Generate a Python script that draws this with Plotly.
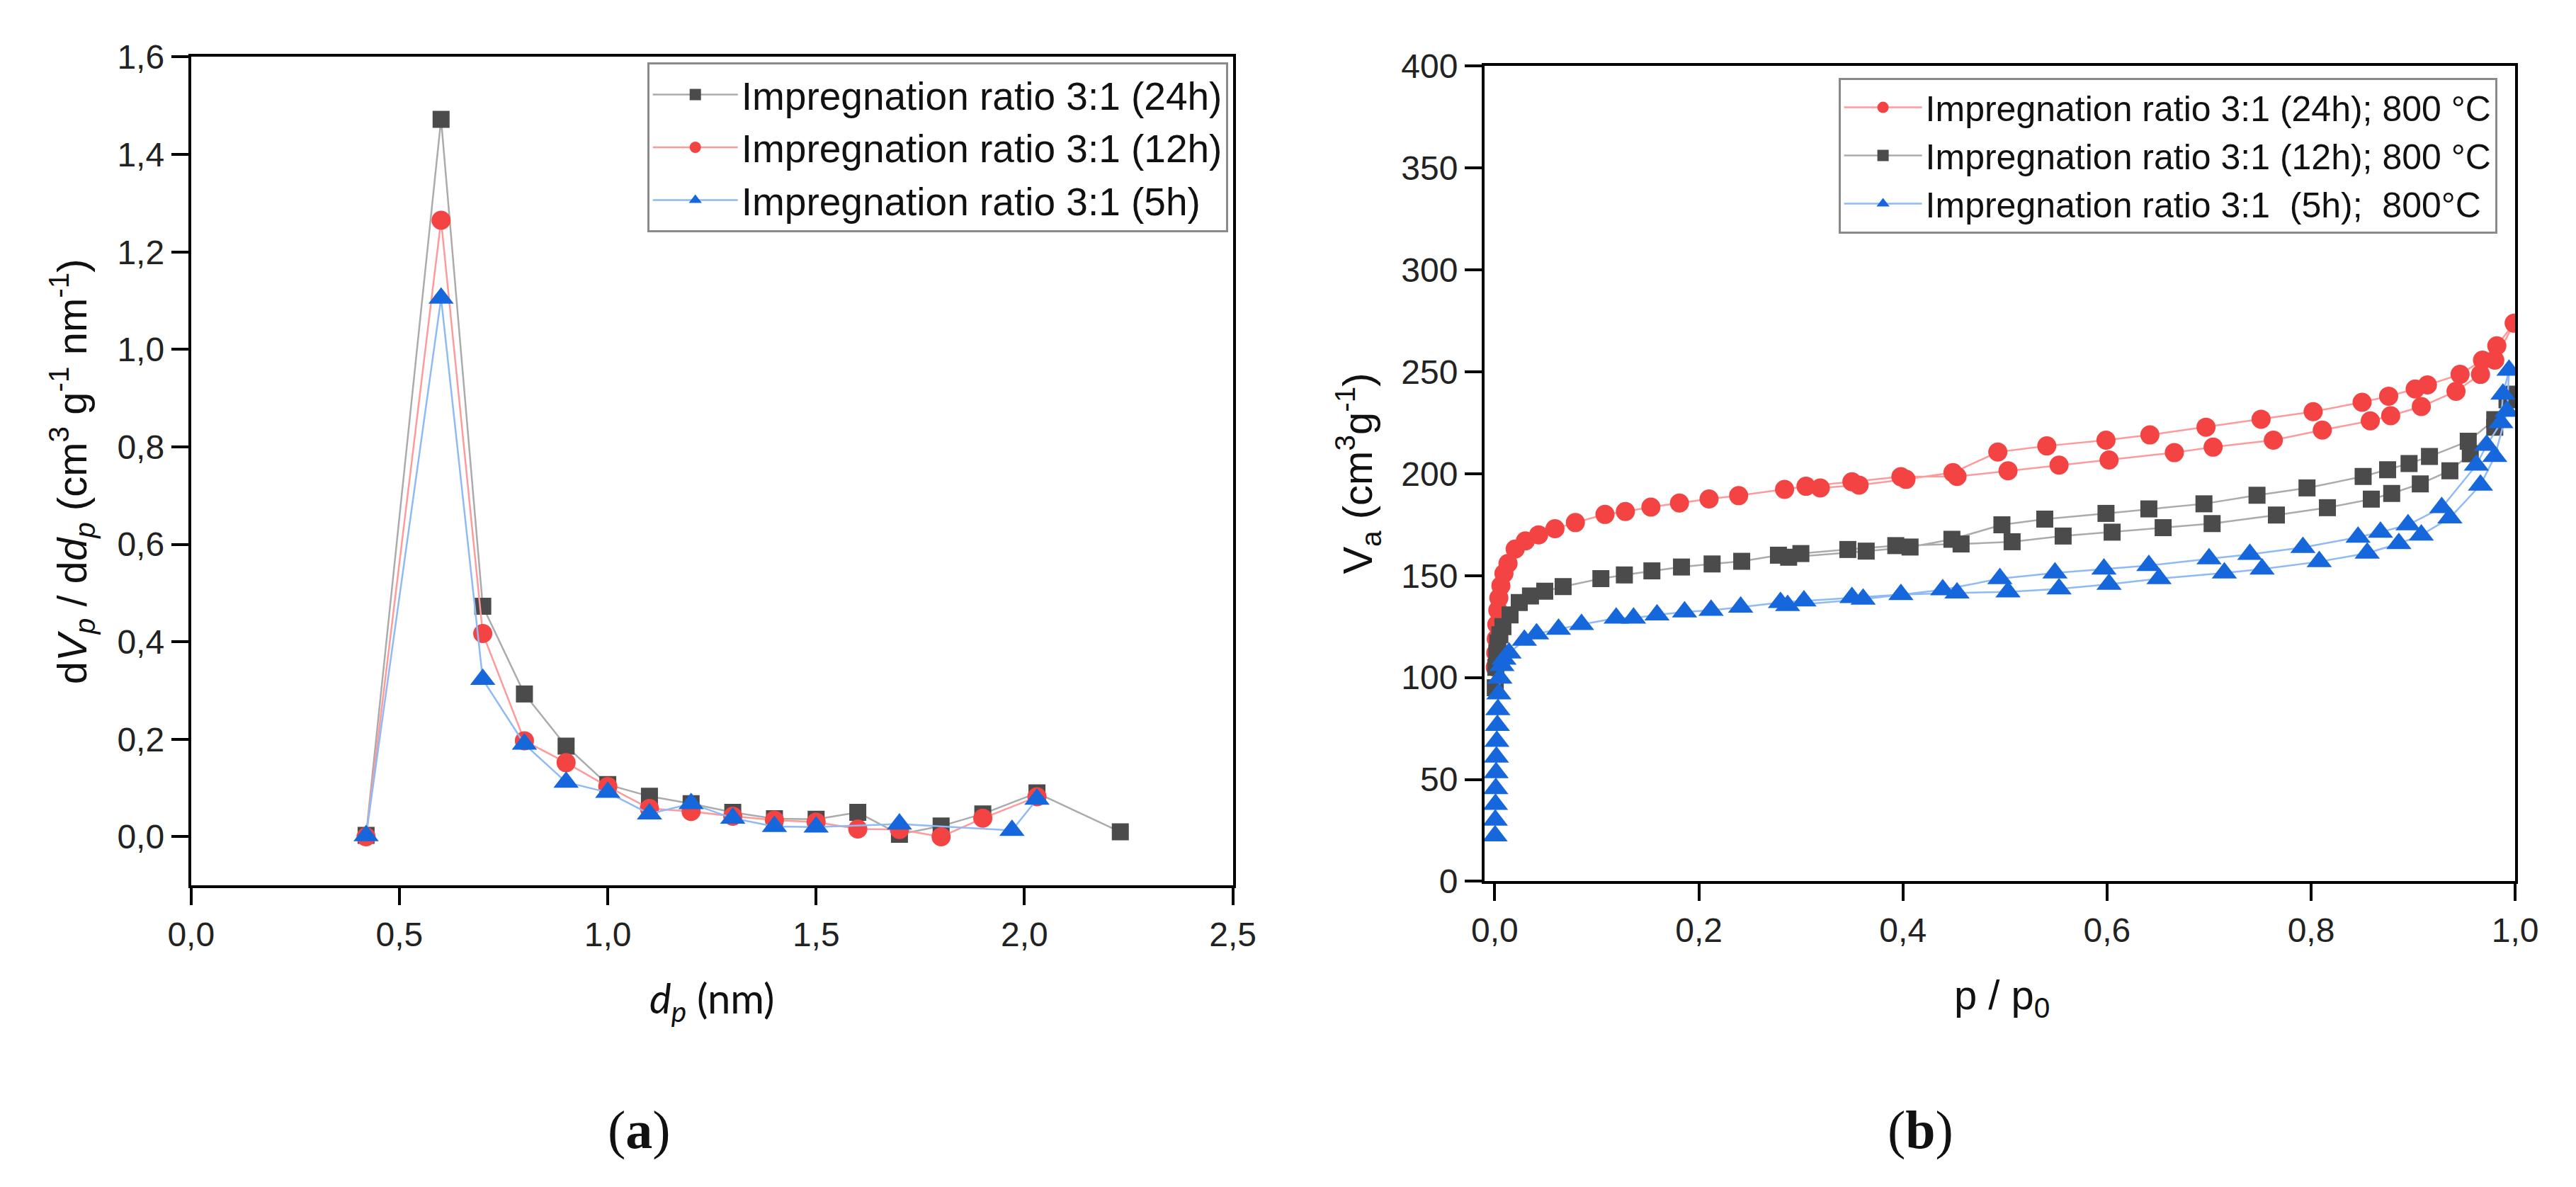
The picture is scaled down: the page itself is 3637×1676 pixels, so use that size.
import plotly.graph_objects as go

# (a) pore size distribution, d_p in nm
dp_24h = [0.42, 0.60, 0.70, 0.80, 0.90, 1.00, 1.10, 1.20, 1.30, 1.40, 1.50, 1.60, 1.70, 1.80, 1.90, 2.03, 2.23]
psd_24h = [0.003, 1.472, 0.473, 0.293, 0.186, 0.107, 0.083, 0.068, 0.050, 0.037, 0.036, 0.050, 0.005, 0.022, 0.047, 0.090, 0.010]
dp_12h = [0.42, 0.60, 0.70, 0.80, 0.90, 1.00, 1.10, 1.20, 1.30, 1.40, 1.50, 1.60, 1.70, 1.80, 1.90, 2.03]
psd_12h = [0.0, 1.265, 0.417, 0.197, 0.152, 0.103, 0.058, 0.052, 0.042, 0.034, 0.030, 0.016, 0.015, 0.0, 0.038, 0.082]
dp_5h = [0.42, 0.60, 0.70, 0.80, 0.90, 1.00, 1.10, 1.20, 1.30, 1.40, 1.50, 1.70, 1.97, 2.03]
psd_5h = [0.002, 1.105, 0.323, 0.190, 0.112, 0.091, 0.047, 0.068, 0.038, 0.021, 0.020, 0.026, 0.013, 0.077]

# (b) N2 isotherms: adsorption branch (rising p) then desorption branch (falling p)
p_ads_24h = [0.0005, 0.001, 0.0015, 0.002, 0.003, 0.004, 0.006, 0.009, 0.013, 0.02, 0.03, 0.043, 0.059, 0.079,
             0.108, 0.128, 0.153, 0.181, 0.21, 0.239, 0.284, 0.305, 0.35, 0.398, 0.453, 0.503, 0.553, 0.602,
             0.666, 0.704, 0.763, 0.811, 0.858, 0.878, 0.908, 0.942, 0.966, 0.98, 0.999]
v_ads_24h = [105, 112, 119, 126, 133, 139, 145, 151, 156, 163, 167, 170, 173, 176,
             180, 181.4, 183.6, 185.6, 187.6, 189.2, 192.3, 193.8, 196, 198.5, 198.6, 201.4, 204.2, 206.7,
             210.3, 213, 216.4, 221.4, 225.9, 228.4, 232.9, 240.4, 248.7, 255.7, 273.8]
p_des_24h = [0.982, 0.968, 0.946, 0.914, 0.902, 0.876, 0.85, 0.802, 0.751, 0.697, 0.642, 0.599, 0.541, 0.493,
             0.449, 0.403, 0.357, 0.319]
v_des_24h = [262.7, 255.7, 248.7, 243.5, 241.5, 238, 235, 230.4, 226.7, 222.8, 219, 216.4, 213.6, 210.6,
             200.5, 197.2, 194.4, 193.0]

p_ads_12h = [0.0005, 0.001, 0.002, 0.003, 0.005, 0.008, 0.015, 0.024, 0.035, 0.049, 0.067, 0.104, 0.127, 0.154,
             0.183, 0.213, 0.242, 0.278, 0.3, 0.346, 0.393, 0.457, 0.507, 0.557, 0.605, 0.655, 0.703, 0.766,
             0.816, 0.859, 0.879, 0.907, 0.936, 0.956, 0.98, 0.992]
v_ads_12h = [95, 105, 112, 117, 121, 125, 130.7, 136.8, 140, 142.3, 144.6, 148.5, 150.3, 152.3,
             154.2, 155.7, 157, 160, 160.8, 162.8, 164.7, 165.5, 166.6, 169.4, 171.3, 173.5, 175.5, 179.7,
             183.3, 187.5, 190.3, 195, 201.4, 209.7, 222.8, 236.2]
p_des_12h = [0.996, 0.98, 0.954, 0.916, 0.896, 0.875, 0.851, 0.796, 0.747, 0.695, 0.641, 0.599, 0.539, 0.497,
             0.448, 0.407, 0.364, 0.288]
v_des_12h = [239, 226.5, 215.9, 208.4, 205, 201.9, 198.6, 193, 189.4, 185.2, 182.7, 180.5, 177.7, 174.9,
             167.8, 164, 162, 159]

p_ads_5h = [0.0003, 0.0005, 0.0007, 0.001, 0.0013, 0.0016, 0.002, 0.0025, 0.003, 0.004, 0.005, 0.007, 0.009,
            0.014, 0.029, 0.041, 0.0625, 0.085, 0.119, 0.136, 0.159, 0.186, 0.212, 0.241, 0.28, 0.303, 0.35,
            0.398, 0.453, 0.503, 0.553, 0.602, 0.651, 0.715, 0.752, 0.808, 0.855, 0.886, 0.908, 0.936, 0.966,
            0.98, 0.992]
v_ads_5h = [22.3, 30, 37.8, 45.5, 53.3, 61, 68.7, 76.5, 84.2, 92, 99.7, 105.9, 109,
            112, 118.3, 121.4, 123.7, 126, 129.1, 129.1, 130.7, 132.2, 133, 134.5, 136.8, 137.6, 139.2,
            140.7, 141.5, 142, 143.5, 145.7, 148.5, 151.3, 153.2, 156.8, 161, 165.7, 169.9, 178.3, 194.4,
            208.4, 230.6]
p_des_5h = [0.994, 0.988, 0.986, 0.972, 0.962, 0.928, 0.895, 0.868, 0.846, 0.792, 0.74, 0.7, 0.641, 0.597,
            0.549, 0.495, 0.439, 0.361, 0.287]
v_des_5h = [250.7, 239, 225, 213.9, 204.2, 183.3, 174.9, 171.3, 168.8, 163.8, 160.4, 158.2, 154.9, 153.2,
            151.3, 148.5, 143, 138.4, 135.3]

W, H = 3637, 1676
FONT = "Arial, Liberation Sans, sans-serif"
SERIF = "Liberation Serif, Times New Roman, serif"

# colours (marker, line)
BLACK = ("#4b4b4b", "#ababab")
RED = ("#f34343", "#ff9a9a")
BLUE = ("#1667dc", "#8fbaf5")

SQ = dict(symbol="square", size=24)
CI = dict(symbol="circle", size=27)
TR = dict(symbol="triangle-up", size=31)


def trace(x, y, name, col, mk, xa, ya, legend):
    return go.Scatter(
        x=x, y=y, name=name, mode="lines+markers",
        line=dict(color=col[1], width=2.5),
        marker=dict(color=col[0], line=dict(width=0), **mk),
        xaxis=xa, yaxis=ya, legend=legend,
    )


fig = go.Figure()
fig.add_trace(trace(dp_24h, psd_24h, "Impregnation ratio 3:1 (24h)", BLACK, SQ, "x", "y", "legend"))
fig.add_trace(trace(dp_12h, psd_12h, "Impregnation ratio 3:1 (12h)", RED, CI, "x", "y", "legend"))
fig.add_trace(trace(dp_5h, psd_5h, "Impregnation ratio 3:1 (5h)", BLUE, TR, "x", "y", "legend"))

fig.add_trace(trace(p_ads_24h + p_des_24h, v_ads_24h + v_des_24h,
                    "Impregnation ratio 3:1 (24h); 800 °C", RED, CI, "x2", "y2", "legend2"))
fig.add_trace(trace(p_ads_12h + p_des_12h, v_ads_12h + v_des_12h,
                    "Impregnation ratio 3:1 (12h); 800 °C", BLACK, SQ, "x2", "y2", "legend2"))
fig.add_trace(trace(p_ads_5h + p_des_5h, v_ads_5h + v_des_5h,
                    "Impregnation ratio 3:1\u00a0\u00a0(5h);\u00a0\u00a0800°C", BLUE, TR, "x2", "y2", "legend2"))

ax = dict(showline=True, linewidth=4, linecolor="black", mirror=True, ticks="outside",
          ticklen=24, tickwidth=4, tickcolor="black", showgrid=False, zeroline=False,
          tickfont=dict(family=FONT, size=48, color="#222"))

fig.update_layout(
    width=W, height=H,
    margin=dict(l=0, r=0, t=0, b=0),
    paper_bgcolor="white", plot_bgcolor="white",
    separators=",.",
    font=dict(family=FONT, color="#111"),
    xaxis=dict(domain=[233 / W, 1731 / W], range=[0, 2.5], dtick=0.5, tickformat=".1f", anchor="y", **ax),
    yaxis=dict(domain=[(H - 1256) / H, (H - 48) / H], range=[-0.1, 1.6], dtick=0.2, tickformat=".1f",
               anchor="x", **ax),
    xaxis2=dict(domain=[2093 / W, 3575 / W], range=[-0.01, 1.0], tick0=0, dtick=0.2, tickformat=".1f",
                anchor="y2", **ax),
    yaxis2=dict(domain=[(H - 1250) / H, (H - 61) / H], range=[0, 400], dtick=50, anchor="x2", **ax),
    legend=dict(x=1724 / W, y=(H - 56) / H, xanchor="right", yanchor="top",
                bgcolor="white", bordercolor="#8a8a8a", borderwidth=3, itemwidth=120,
                font=dict(family=FONT, size=55, color="#111"), tracegroupgap=0),
    legend2=dict(x=3549 / W, y=(H - 78) / H, xanchor="right", yanchor="top",
                 bgcolor="white", bordercolor="#8a8a8a", borderwidth=3, itemwidth=110,
                 font=dict(family=FONT, size=50, color="#111"), tracegroupgap=0),
)

notes = [
    (62 / W, (H - 652) / H, "d<i>V</i><sub><i>p</i></sub> / d<i>d</i><sub><i>p</i></sub> "
     "(cm<sup>3</sup> g<sup>-1</sup> nm<sup>-1</sup>)", 58, -90, FONT),
    (982 / W, (H - 1424) / H, "<i>d</i><sub><i>p</i></sub> (nm)", 58, 0, "Lato, Open Sans, sans-serif"),
    (1911 / W, (H - 655) / H, "V<sub>a</sub> (cm<sup>3</sup>g<sup>-1</sup>)", 58, -90, FONT),
    (2837 / W, (H - 1420) / H, "p / p<sub>0</sub>", 58, 0, FONT),
    (877 / W, (H - 1613) / H, "(<b>a</b>)", 76, 0, SERIF),
    (2720 / W, (H - 1613) / H, "(<b>b</b>)", 76, 0, SERIF),
]
for x, y, text, size, ang, fam in notes:
    fig.add_annotation(x=x, y=y, xref="paper", yref="paper", text=text, showarrow=False,
                       textangle=ang, xanchor="center", yanchor="middle",
                       font=dict(family=fam, size=size, color="#111"))

fig.write_html("out.html")
